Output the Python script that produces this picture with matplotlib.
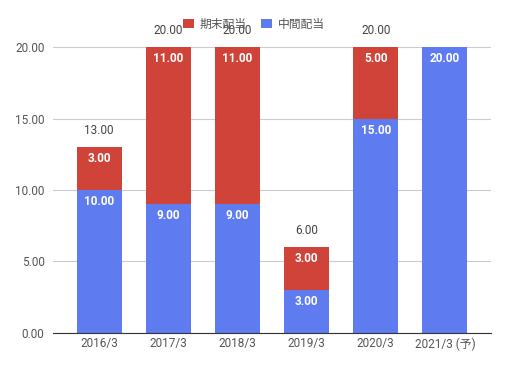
import matplotlib.pyplot as plt
import numpy as np

plt.rcParams['font.family'] = ['Roboto', 'Noto Sans CJK JP', 'DejaVu Sans']

years = ['2016/3', '2017/3', '2018/3', '2019/3', '2020/3', '2021/3 (予)']
interim = [10, 9, 9, 3, 15, 20]   # 中間配当
final = [3, 11, 11, 3, 5, 0]      # 期末配当
show_total = [True, True, True, True, True, False]

blue = '#5e7cf0'
red = '#cf4338'

fig = plt.figure(figsize=(5.08, 3.69), dpi=100)
ax = fig.add_axes([0.104, 0.0976, 0.863, 0.775])

x = np.arange(len(years))
w = 0.65
b1 = ax.bar(x, interim, w, color=blue, label='中間配当', zorder=2)
b2 = ax.bar(x, final, w, bottom=interim, color=red, label='期末配当', zorder=2)

for i in range(len(years)):
    if interim[i] > 0:
        ax.text(x[i], interim[i] - 0.35, '%.2f' % interim[i], ha='center', va='top',
                color='white', fontsize=8.5, fontweight='bold', zorder=3)
    if final[i] > 0:
        top = interim[i] + final[i]
        ax.text(x[i], top - 0.35, '%.2f' % final[i], ha='center', va='top',
                color='white', fontsize=8.5, fontweight='bold', zorder=3)
    if show_total[i]:
        tot = interim[i] + final[i]
        ax.text(x[i], tot + 0.7, '%.2f' % tot, ha='center', va='bottom',
                color='#444444', fontsize=8.5, clip_on=False, zorder=3)

ax.set_xlim(-0.67, 5.67)
ax.set_ylim(0, 20)
ax.set_yticks([0, 5, 10, 15, 20])
ax.set_yticklabels(['%.2f' % v for v in [0, 5, 10, 15, 20]])
ax.set_xticks(x)
ax.set_xticklabels(years)
ax.grid(axis='y', color='#cccccc', linewidth=0.8, zorder=0)
for s in ['top', 'right', 'left']:
    ax.spines[s].set_visible(False)
ax.spines['bottom'].set_color('#333333')
ax.spines['bottom'].set_zorder(4)
ax.tick_params(axis='both', length=0, labelsize=8.5, colors='#555555')
ax.tick_params(axis='y', pad=6)
ax.tick_params(axis='x', pad=3)

handles = [b2, b1]
fig.legend(handles, ['期末配当', '中間配当'], loc='center', bbox_to_anchor=(0.5, 0.935),
           ncol=2, frameon=False, fontsize=8.5, handlelength=0.9, handleheight=0.9,
           columnspacing=1.2, handletextpad=0.5, labelcolor='#555555')

fig.savefig('out.png', dpi=100)
